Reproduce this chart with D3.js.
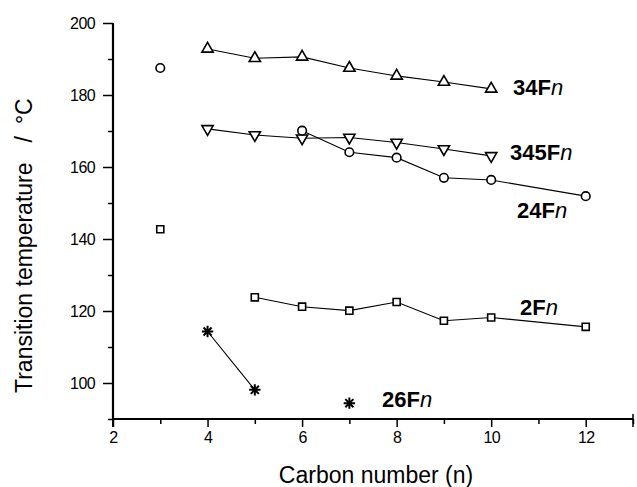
<!DOCTYPE html>
<html>
<head>
<meta charset="utf-8">
<script src="https://cdnjs.cloudflare.com/ajax/libs/d3/7.8.5/d3.min.js"></script>
<style>
  body { margin: 0; background: #fff; }
  text { font-family: "Liberation Sans", Arial, sans-serif; fill: #000; }
</style>
</head>
<body id="viz">
<script>
// Chart data: carbon number n vs transition temperature
n34 = [4, 5, 6, 7, 8, 9, 10]
t34 = [192.8, 190.2, 190.6, 187.5, 185.3, 183.6, 181.7]

n345 = [4, 5, 6, 7, 8, 9, 10]
t345 = [170.6, 168.9, 168.0, 168.2, 166.8, 165.0, 163.1]

n24 = [3, 6, 7, 8, 9, 10, 12]
t24 = [187.5, 170.1, 164.1, 162.6, 157.0, 156.4, 151.9]
join24 = [0, 1, 1, 1, 1, 1, 1]

n2 = [3, 5, 6, 7, 8, 9, 10, 12]
t2 = [142.7, 123.8, 121.2, 120.1, 122.5, 117.3, 118.2, 115.6]
join2 = [0, 1, 1, 1, 1, 1, 1, 1]

n26 = [4, 5, 7]
t26 = [114.3, 98.1, 94.4]
join26 = [1, 1, 0]

xMajor = [2, 4, 6, 8, 10, 12]
xMinor = [3, 5, 7, 9, 11, 13]
yMajor = [100, 120, 140, 160, 180, 200]
yMinor = [90, 110, 130, 150, 170, 190]

// Layout
width = 637
height = 487
x0 = 113, x1 = 633
y0 = 419, y1 = 23

svg = d3.select("body#viz")
  .append("svg")
  .attr("width", width)
  .attr("height", height)

x = d3.scaleLinear().domain([2, 13]).range([x0, x1])
y = d3.scaleLinear().domain([90, 200]).range([y0, y1])

// custom 8-arm asterisk
asterisk = {
  draw: function(ctx, size) {
    var r = Math.sqrt(size) / 2
    var d = r * Math.SQRT1_2
    ctx.moveTo(-r, 0); ctx.lineTo(r, 0)
    ctx.moveTo(0, -r); ctx.lineTo(0, r)
    ctx.moveTo(-d, -d); ctx.lineTo(d, d)
    ctx.moveTo(-d, d); ctx.lineTo(d, -d)
  }
}

series = [
  { n: n34, t: t34, join: null, sym: d3.symbolTriangle, size: 55, rot: 0 },
  { n: n345, t: t345, join: null, sym: d3.symbolTriangle, size: 55, rot: 180 },
  { n: n24, t: t24, join: join24, sym: d3.symbolCircle, size: 58, rot: 0 },
  { n: n2, t: t2, join: join2, sym: d3.symbolSquare, size: 50, rot: 0 },
  { n: n26, t: t26, join: join26, sym: asterisk, size: 130, rot: 0 }
]

//////// Axes ////////
gx = svg.append("g").attr("transform", "translate(0," + y0 + ")")
gx.call(d3.axisBottom(x).tickValues(xMajor).tickSize(8).tickPadding(5).tickFormat(d3.format("d")))
svg.append("g").attr("transform", "translate(0," + y0 + ")")
  .call(d3.axisBottom(x).tickValues(xMinor).tickSize(5).tickFormat(""))
  .select(".domain").remove()

gy = svg.append("g").attr("transform", "translate(" + x0 + ",0)")
gy.call(d3.axisLeft(y).tickValues(yMajor).tickSize(10).tickPadding(8).tickFormat(d3.format("d")))
svg.append("g").attr("transform", "translate(" + x0 + ",0)")
  .call(d3.axisLeft(y).tickValues(yMinor).tickSize(5).tickFormat(""))
  .select(".domain").remove()

svg.selectAll(".domain").attr("stroke-width", 2.2)
svg.selectAll(".tick line").attr("stroke-width", 1.5)
svg.selectAll(".tick text")
  .attr("font-size", 16)
  .style("font-size", "16px")
  .style("letter-spacing", "-0.6px")
  .attr("fill", "#000")
gx.selectAll(".domain").attr("d", "M" + x0 + ",0H" + x1)
gy.selectAll(".domain").attr("d", "M0," + y0 + "V" + y1)

// end ticks on the x axis
svg.append("line").attr("x1", x0).attr("x2", x0).attr("y1", y0).attr("y2", y0 + 8)
  .attr("stroke", "#000").attr("stroke-width", 2)
svg.append("line").attr("x1", x1).attr("x2", x1).attr("y1", y0 - 5).attr("y2", y0 + 8)
  .attr("stroke", "#000").attr("stroke-width", 1.5)

//////// Lines and markers ////////
series.forEach(function(s) {
  var pts = s.n.map(function(v, i) { return { n: v, t: s.t[i], j: s.join ? s.join[i] : 1 } })

  svg.append("path")
    .datum(pts)
    .attr("d", d3.line()
      .defined(function(d) { return d.j })
      .x(function(d) { return x(d.n) })
      .y(function(d) { return y(d.t) }))
    .style("fill", "none")
    .style("stroke", "#000")
    .style("stroke-width", 1.1)

  svg.selectAll(null)
    .data(pts)
    .enter()
    .append("path")
      .attr("transform", function(d) {
        return "translate(" + x(d.n) + "," + y(d.t) + ") rotate(" + s.rot + ")" })
      .attr("d", d3.symbol().type(s.sym).size(s.size))
      .attr("fill", "#fff")
      .attr("stroke", "#000")
      .attr("stroke-width", s.sym === asterisk ? 2 : 1.6)
})

//////// Series labels ////////
labels = [
  { num: "34F", lx: 513, ly: 95 },
  { num: "345F", lx: 510, ly: 160 },
  { num: "24F", lx: 517, ly: 218 },
  { num: "2F", lx: 520, ly: 315 },
  { num: "26F", lx: 382, ly: 407 }
]
labels.forEach(function(l) {
  var t = svg.append("text")
    .attr("x", l.lx)
    .attr("y", l.ly)
    .style("font-size", "22px")
    .style("font-weight", "bold")
  t.append("tspan").text(l.num)
  t.append("tspan").text("n").style("font-style", "italic").style("font-weight", "normal")
})

//////// Axis titles ////////
svg.append("text")
  .attr("x", 376)
  .attr("y", 483)
  .attr("text-anchor", "middle")
  .style("font-size", "23px")
  .text("Carbon number (n)")

yt = svg.append("text")
  .attr("transform", "translate(32,393) rotate(-90)")
  .style("font-size", "23px")
yt.append("tspan").text("Transition temperature")
yt.append("tspan").attr("dx", 20).text("/")
yt.append("tspan").attr("dx", 12).text("\u00B0C")
</script>
</body>
</html>
